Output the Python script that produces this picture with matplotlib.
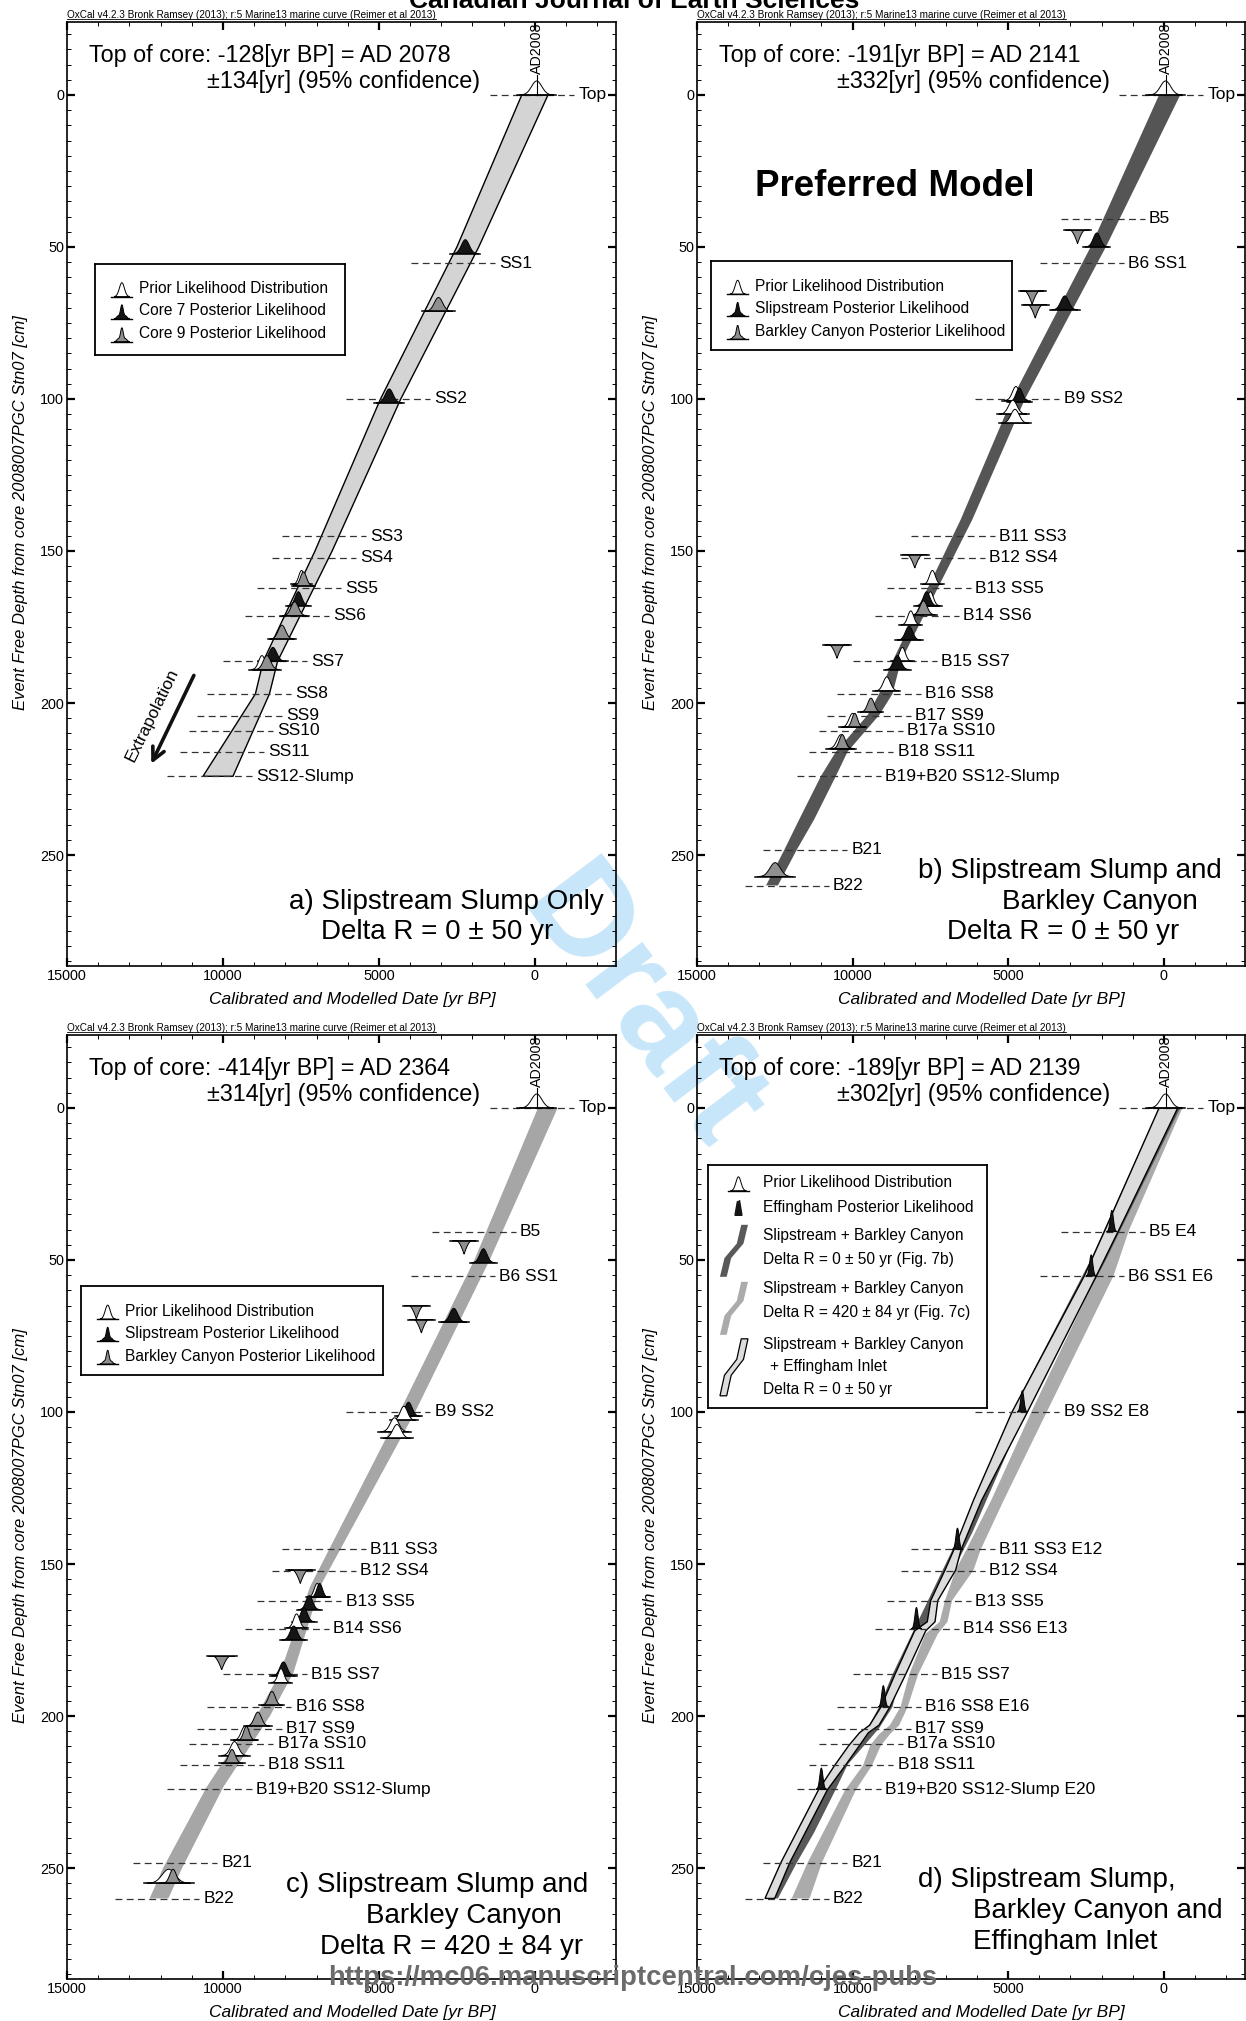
"""Age-depth models for core 2008007PGC Stn07 (four OxCal model variants)."""
import matplotlib
matplotlib.use("Agg")
import matplotlib.pyplot as plt
import numpy as np
from matplotlib.patches import Polygon
from matplotlib.lines import Line2D
from matplotlib.ticker import MultipleLocator

plt.rcParams["font.family"] = ["Liberation Sans", "DejaVu Sans"]

# event horizons (cm) and the date each dashed guide is centred on (yr BP)
event_depth = [0, 40.7, 55.3, 100.0, 145.2, 152.3, 162.2, 171.3, 186.3, 197.0,
               204.2, 209.1, 216.1, 224.1, 248.2, 260.1]
event_mid = [80, 1960, 2620, 4700, 6767, 7088, 7553, 7944, 8650, 9157,
             9467, 9734, 10038, 10430, 11530, 12110]
labels_a = ["Top", "", "SS1", "SS2", "SS3", "SS4", "SS5", "SS6", "SS7", "SS8",
            "SS9", "SS10", "SS11", "SS12-Slump", "", ""]
labels_bc = ["Top", "B5", "B6 SS1", "B9 SS2", "B11 SS3", "B12 SS4", "B13 SS5",
             "B14 SS6", "B15 SS7", "B16 SS8", "B17 SS9", "B17a SS10", "B18 SS11",
             "B19+B20 SS12-Slump", "B21", "B22"]
labels_d = ["Top", "B5 E4", "B6 SS1 E6", "B9 SS2 E8", "B11 SS3 E12", "B12 SS4",
            "B13 SS5", "B14 SS6 E13", "B15 SS7", "B16 SS8 E16", "B17 SS9",
            "B17a SS10", "B18 SS11", "B19+B20 SS12-Slump E20", "B21", "B22"]

# modelled age envelopes: depth (cm), old edge and young edge (yr BP)
band_a_depth = [0, 50, 100, 150, 186.3, 197.0, 224.1]
band_a_old = [420, 2500, 4950, 7050, 8710, 8960, 10640]
band_a_young = [-420, 1800, 4300, 6500, 8250, 8510, 9680]

band_b_depth = [0, 50, 100, 139.7, 186.3, 197.0, 204.0, 216.0, 224.0, 238.4, 248.2, 260.0]
band_b_old = [150, 2350, 4880, 6527, 8717, 9147, 9519, 10535, 11015, 11720, 12190, 12780]
band_b_young = [-530, 1860, 4460, 6153, 8450, 8717, 9147, 10160, 10535, 11240, 11790, 12400]

band_c_depth = [0, 50, 100, 157.4, 185.8, 199.9, 211.6, 223.3, 250.0, 260.0]
band_c_old = [-100, 1940, 4340, 7206, 8168, 8916, 9772, 10519, 11920, 12350]
band_c_young = [-730, 1450, 3840, 6886, 7742, 8489, 9236, 9986, 11310, 11750]

band_d7c_depth = [0, 40.2, 55.2, 100, 129, 145.3, 152, 162, 169, 173, 186.2, 197.1,
                  203, 206, 209.7, 216.3, 224.3, 248.1, 260]
band_d7c_old = [-200, 1555, 2165, 4256, 5542, 6343, 6687, 7030, 7200, 7662, 8175, 8463,
                8800, 9150, 9435, 9666, 10237, 11440, 11956]
band_d7c_young = [-600, 1116, 1613, 3760, 5141, 5885, 6113, 6802, 6950, 7261, 7889, 8233,
                  8500, 8800, 9092, 9377, 9894, 10980, 11382]

band_eff_depth = [0, 40.2, 55.2, 100, 129, 145.3, 152, 162, 169, 172, 186.2, 197.1,
                  203, 205.5, 209.7, 216.3, 224.3, 248.1, 260]
band_eff_old = [150, 1889, 2550, 4876, 6113, 6744, 7030, 7488, 7600, 8005, 8633, 9092,
                9450, 9778, 10122, 10580, 11096, 12299, 12815]
band_eff_young = [-450, 1446, 2165, 4380, 5850, 6513, 6687, 7261, 7350, 7650, 8290, 8806,
                  9150, 9493, 9778, 10237, 10811, 12013, 12504]

# likelihood plots: kind, baseline depth (cm), centre (yr BP), half width (yr)
dists_a = [("black", 52.2, 2230, 420), ("gray", 71.2, 3090, 450),
           ("black", 101.3, 4670, 420), ("prior", 161.0, 7480, 300),
           ("gray", 161.5, 7420, 330), ("black", 168.0, 7580, 350),
           ("gray", 171.3, 7700, 400), ("gray", 179.0, 8110, 400),
           ("black", 186.3, 8400, 420), ("prior", 189.0, 8750, 350),
           ("gray", 189.0, 8590, 400)]
dists_b = [("inv", 44.5, 2770, 380), ("black", 50.0, 2150, 380),
           ("inv", 64.5, 4230, 380), ("inv", 69.0, 4130, 380),
           ("black", 70.7, 3180, 420), ("prior", 100.5, 4750, 380),
           ("black", 101.0, 4640, 350), ("prior", 105.0, 4850, 450),
           ("prior", 108.0, 4780, 450), ("inv", 151.2, 8000, 400),
           ("prior", 161.0, 7435, 320), ("prior", 168.0, 7500, 320),
           ("black", 168.0, 7620, 350), ("gray", 171.0, 7720, 380),
           ("prior", 174.3, 8130, 320), ("black", 179.3, 8185, 380),
           ("inv", 180.9, 10500, 400), ("prior", 186.3, 8400, 320),
           ("black", 189.0, 8560, 380), ("prior", 196.0, 8900, 380),
           ("gray", 203.0, 9410, 350), ("prior", 208.0, 10000, 380),
           ("gray", 208.0, 9930, 300), ("prior", 215.0, 10375, 420),
           ("gray", 215.0, 10330, 320), ("gray", 257.1, 12490, 560)]
dists_c = [("inv", 43.7, 2270, 380), ("black", 50.9, 1650, 380),
           ("inv", 65.0, 3800, 380), ("inv", 69.6, 3640, 380),
           ("black", 70.5, 2600, 420), ("black", 101.4, 4050, 380),
           ("prior", 102.7, 4200, 380), ("prior", 106.5, 4500, 450),
           ("prior", 108.7, 4420, 450), ("inv", 152.0, 7520, 400),
           ("prior", 161.0, 6980, 320), ("black", 161.0, 6900, 300),
           ("black", 165.0, 7230, 350), ("black", 169.0, 7400, 350),
           ("prior", 171.0, 7640, 320), ("black", 175.0, 7730, 380),
           ("inv", 180.4, 10040, 420), ("black", 186.8, 8060, 380),
           ("prior", 189.0, 8140, 320), ("gray", 196.5, 8430, 350),
           ("gray", 203.3, 8880, 380), ("prior", 208.0, 9300, 380),
           ("gray", 208.0, 9250, 300), ("prior", 213.0, 9630, 420),
           ("gray", 215.6, 9710, 350), ("prior", 255.0, 11740, 700),
           ("gray", 255.0, 11600, 350)]
dists_d = [("eff", 40.7, 1668, 170), ("eff", 55.3, 2332, 170), ("eff", 100.0, 4545, 170),
           ("eff", 145.2, 6629, 170), ("eff", 171.3, 7947, 170), ("eff", 197.0, 9012, 170),
           ("eff", 224.1, 11004, 170)]

top_text = {"a": ("-128", "2078", "134"), "b": ("-191", "2141", "332"),
            "c": ("-414", "2364", "314"), "d": ("-189", "2139", "302")}
AD2008 = -58

OXCAL = "OxCal v4.2.3 Bronk Ramsey (2013); r:5 Marine13 marine curve (Reimer et al 2013)"
POST_GRAY = "#8f8f8f"
XLIM = (15000, -2600)
YLIM = (286.5, -24)


def band(ax, depth, old, young, face, edge="none", z=2):
    pts = list(zip(old, depth)) + list(zip(young[::-1], depth[::-1]))
    ax.add_patch(Polygon(pts, closed=True, facecolor=face, edgecolor=edge,
                         linewidth=1.0, zorder=z))


def peak(ax, kind, depth, date, hw):
    u = np.linspace(-1, 1, 61)
    xs = date + hw * u
    if kind == "inv":
        ys = depth + 4.4 * np.clip(1 - np.abs(u) / 0.6, 0, None) ** 1.6
    elif kind == "eff":
        ys = depth - 7.0 * np.exp(-0.5 * (u / 0.3) ** 2)
    else:
        ys = depth - 4.6 * np.exp(-0.5 * (u / 0.3) ** 2)
    face = {"prior": "white", "black": "#151515", "gray": POST_GRAY,
            "inv": POST_GRAY, "eff": "#151515"}[kind]
    ax.fill(xs, ys, facecolor=face, edgecolor="black", linewidth=0.7, zorder=4)
    if kind != "eff":
        ax.plot([date - 1.15 * hw, date + 1.15 * hw], [depth, depth],
                color="black", lw=1.1, zorder=4)


def events(ax, labels):
    for d, m, lab in zip(event_depth, event_mid, labels):
        if not lab:
            continue
        ax.plot([m + 1350, m - 1350], [d, d], color="#333333", lw=0.9,
                ls=(0, (5.5, 3.5)), zorder=3)
        ax.annotate(lab, (m - 1350, d), xytext=(3, 0), textcoords="offset points",
                    ha="left", va="center", fontsize=12.5, zorder=5)


def style(ax):
    ax.set_xlim(*XLIM)
    ax.set_ylim(*YLIM)
    ax.set_facecolor("none")
    ax.xaxis.set_major_locator(MultipleLocator(5000))
    ax.xaxis.set_minor_locator(MultipleLocator(1000))
    ax.yaxis.set_major_locator(MultipleLocator(50))
    ax.yaxis.set_minor_locator(MultipleLocator(5))
    ax.tick_params(which="both", direction="in", top=True, right=True,
                   labelsize=10.4, pad=2)
    ax.tick_params(which="major", length=6, width=1.6)
    ax.tick_params(which="minor", length=3, width=0.7)
    for s in ax.spines.values():
        s.set_linewidth(1.2)
    ax.text(0.52, -0.036, "Calibrated and Modelled Date [yr BP]", transform=ax.transAxes,
            ha="center", va="center", style="italic", fontsize=12.5)
    ax.text(-0.085, 0.48, "Event Free Depth from core 2008007PGC Stn07 [cm]",
            transform=ax.transAxes, rotation=90, ha="center", va="center",
            style="italic", fontsize=12)


def top_block(ax, key):
    bp, ad, err = top_text[key]
    ax.text(14300, -13, f"Top of core: {bp}[yr BP] = AD {ad}", fontsize=16.8,
            ha="left", va="center", zorder=5)
    ax.text(10500, -4.5, f"\u00b1{err}[yr] (95% confidence)", fontsize=16.8,
            ha="left", va="center", zorder=5)
    peak(ax, "prior", 0, AD2008, 550)
    ax.plot([AD2008, AD2008], [0, -6.5], color="black", lw=0.8, zorder=5)
    ax.text(AD2008, -7, "AD2008", rotation=90, ha="center", va="bottom", fontsize=10.3)


def icon_bell(lax, x0, x1, yb, h, face="white", jag=False):
    u = np.linspace(-1, 1, 41)
    xs = (x0 + x1) / 2 + (x1 - x0) / 2 * 0.75 * u
    prof = np.exp(-0.5 * (u / 0.32) ** 2)
    if jag:
        prof = prof * (0.75 + 0.25 * np.cos(9 * u))
    lax.fill(xs, yb - h * prof, facecolor=face, edgecolor="black", lw=0.7)
    lax.plot([x0, x1], [yb, yb], color="black", lw=1.0)


def icon_strip(lax, x0, x1, y0, y1, face, edge="none"):
    w, h = x1 - x0, y1 - y0
    cx = [0.12, 0.28, 0.5, 0.72, 0.88]
    cy = [1.0, 0.64, 0.5, 0.36, 0.0]
    t = 0.12
    left = [(x0 + w * (a - t), y0 + h * b) for a, b in zip(cx, cy)]
    right = [(x0 + w * (a + t), y0 + h * b) for a, b in zip(cx[::-1], cy[::-1])]
    lax.add_patch(Polygon(left + right, closed=True, facecolor=face, edgecolor=edge, lw=0.9))


def legend_box(ax, old, young, d_top, d_bot):
    fx0, fy1 = ax.transLimits.transform((old, d_top))
    fx1, fy0 = ax.transLimits.transform((young, d_bot))
    lax = ax.inset_axes([fx0, fy0, fx1 - fx0, fy1 - fy0], zorder=6)
    (px0, py0), (px1, py1) = ax.transData.transform([(old, d_top), (young, d_bot)])
    w, h = abs(px1 - px0), abs(py1 - py0)
    lax.set_xlim(0, w)
    lax.set_ylim(h, 0)
    lax.set_xticks([])
    lax.set_yticks([])
    for s in lax.spines.values():
        s.set_linewidth(1.3)
    return lax


def simple_legend(ax, box, names, third_face):
    lax = legend_box(ax, *box)
    rows = [25, 47, 70]
    icon_bell(lax, 16, 37, rows[0] + 8, 14)
    icon_bell(lax, 16, 37, rows[1] + 8, 14, face="#151515", jag=True)
    icon_bell(lax, 16, 37, rows[2] + 8, 14, face=third_face, jag=True)
    for y, name in zip(rows, names):
        lax.text(44, y, name, ha="left", va="center", fontsize=11.2)


def panel_title(ax, lines):
    for txt, x, d in lines:
        ax.text(x, d, txt, ha="left", va="center", fontsize=20, zorder=5)


fig = plt.figure(figsize=(12.46, 20.21), dpi=100)
pos = {"a": [0.05377, 0.52202, 0.4406, 0.4671], "b": [0.5594, 0.52202, 0.4395, 0.4671],
       "c": [0.05377, 0.02078, 0.4406, 0.4671], "d": [0.5594, 0.02078, 0.4395, 0.4671]}
axes = {k: fig.add_axes(v) for k, v in pos.items()}
for ax in axes.values():
    style(ax)

# a) Slipstream only
ax = axes["a"]
band(ax, band_a_depth, band_a_old, band_a_young, "#d4d4d4", edge="black")
events(ax, labels_a)
for d in dists_a:
    peak(ax, *d)
top_block(ax, "a")
simple_legend(ax, (14090, 6074, 55.5, 85.6),
              ["Prior Likelihood Distribution", "Core 7 Posterior Likelihood",
               "Core 9 Posterior Likelihood"], POST_GRAY)
ax.annotate("", xy=(12337, 220.8), xytext=(10894, 190.1),
            arrowprops=dict(arrowstyle="->,head_length=0.9,head_width=0.45", lw=2.6,
                            color="#111111"))
ax.text(12272, 203.8, "Extrapolation", rotation=64, ha="center", va="center", fontsize=12.5)
panel_title(ax, [("a) Slipstream Slump Only", 7892, 265.3),
                 ("Delta R = 0 \u00b1 50 yr", 6859, 275.4)])

# b) Slipstream + Barkley Canyon, preferred
ax = axes["b"]
band(ax, band_b_depth, band_b_old, band_b_young, "#555555")
events(ax, labels_bc)
for d in dists_b:
    peak(ax, *d)
top_block(ax, "b")
simple_legend(ax, (14545, 4876, 54.7, 83.9),
              ["Prior Likelihood Distribution", "Slipstream Posterior Likelihood",
               "Barkley Canyon Posterior Likelihood"], POST_GRAY)
ax.text(8636, 30.1, "Preferred Model", ha="center", va="center", fontsize=26.5,
        fontweight="bold")
panel_title(ax, [("b) Slipstream Slump and", 7912, 255.1),
                 ("Barkley Canyon", 5207, 265.3),
                 ("Delta R = 0 \u00b1 50 yr", 6954, 275.4)])

# c) Slipstream + Barkley Canyon, larger reservoir offset
ax = axes["c"]
band(ax, band_c_depth, band_c_old, band_c_young, "#a6a6a6")
events(ax, labels_bc)
for d in dists_c:
    peak(ax, *d)
top_block(ax, "c")
simple_legend(ax, (14545, 4876, 58.6, 87.9),
              ["Prior Likelihood Distribution", "Slipstream Posterior Likelihood",
               "Barkley Canyon Posterior Likelihood"], POST_GRAY)
panel_title(ax, [("c) Slipstream Slump and", 7975, 255.5),
                 ("Barkley Canyon", 5405, 265.7),
                 ("Delta R = 420 \u00b1 84 yr", 6880, 275.9)])

# d) all three sites
ax = axes["d"]
band(ax, band_d7c_depth, band_d7c_old, band_d7c_young, "#ababab")
band(ax, band_b_depth, band_b_old, band_b_young, "#595959", z=2.1)
band(ax, band_eff_depth, band_eff_old, band_eff_young, "#dcdcdc", edge="black", z=2.2)
events(ax, labels_d)
for d in dists_d:
    peak(ax, *d)
top_block(ax, "d")
lax = legend_box(ax, 14648, 5677, 18.7, 98.8)
icon_bell(lax, 20, 41, 18 + 8, 14)
lax.fill([27, 29.5, 30.5, 31.5, 34], [42.5 + 8, 42.5 - 6, 42.5 - 4, 42.5 - 7, 42.5 + 8],
         facecolor="#151515", edgecolor="#151515")
icon_strip(lax, 12, 40, 60, 112, "#595959")
icon_strip(lax, 12, 40, 117, 170, "#ababab")
icon_strip(lax, 12, 40, 174, 231, "#dcdcdc", edge="black")
for y, name, x in [(18, "Prior Likelihood Distribution", 55),
                   (42.5, "Effingham Posterior Likelihood", 55),
                   (71, "Slipstream + Barkley Canyon", 55),
                   (95, "Delta R = 0 \u00b1 50 yr (Fig. 7b)", 55),
                   (124, "Slipstream + Barkley Canyon", 55),
                   (148, "Delta R = 420 \u00b1 84 yr (Fig. 7c)", 55),
                   (180, "Slipstream + Barkley Canyon", 55),
                   (202, "+ Effingham Inlet", 62),
                   (225, "Delta R = 0 \u00b1 50 yr", 55)]:
    lax.text(x, y, name, ha="left", va="center", fontsize=11.2)
panel_title(ax, [("d) Slipstream Slump,", 7892, 253.8),
                 ("Barkley Canyon and", 6115, 264.0),
                 ("Effingham Inlet", 6115, 274.2)])

# page furniture
fig.text(0.5088, 1 - 8 / 2021, "Canadian Journal of Earth Sciences", ha="center",
         va="baseline", fontsize=19, fontweight="bold")
fig.text(0.5080, 1 - 1978 / 2021, "https://mc06.manuscriptcentral.com/cjes-pubs",
         ha="center", va="center", fontsize=19.8, fontweight="bold", color="#6b6b6b",
         zorder=10)
fig.text(0.513, 0.5, "Draft", rotation=-53, ha="center", va="center", fontsize=96,
         fontweight="bold", color="#c8e6fa", zorder=-1)
ox_texts = []
for x, y in [(67, 18), (697, 18), (67, 1031), (697, 1031)]:
    ox_texts.append(fig.text(x / 1246, 1 - y / 2021, OXCAL, ha="left", va="baseline",
                             fontsize=7.2))
fig.canvas.draw()
inv = fig.transFigure.inverted()
for t in ox_texts:
    bb = t.get_window_extent()
    (x0, y0), (x1, _) = inv.transform([(bb.x0, bb.y0 + 1), (bb.x1, bb.y0)])
    fig.add_artist(Line2D([x0, x1], [y0, y0], transform=fig.transFigure,
                          color="black", lw=0.6))

fig.savefig("out.png", dpi=100)
plt.close(fig)
